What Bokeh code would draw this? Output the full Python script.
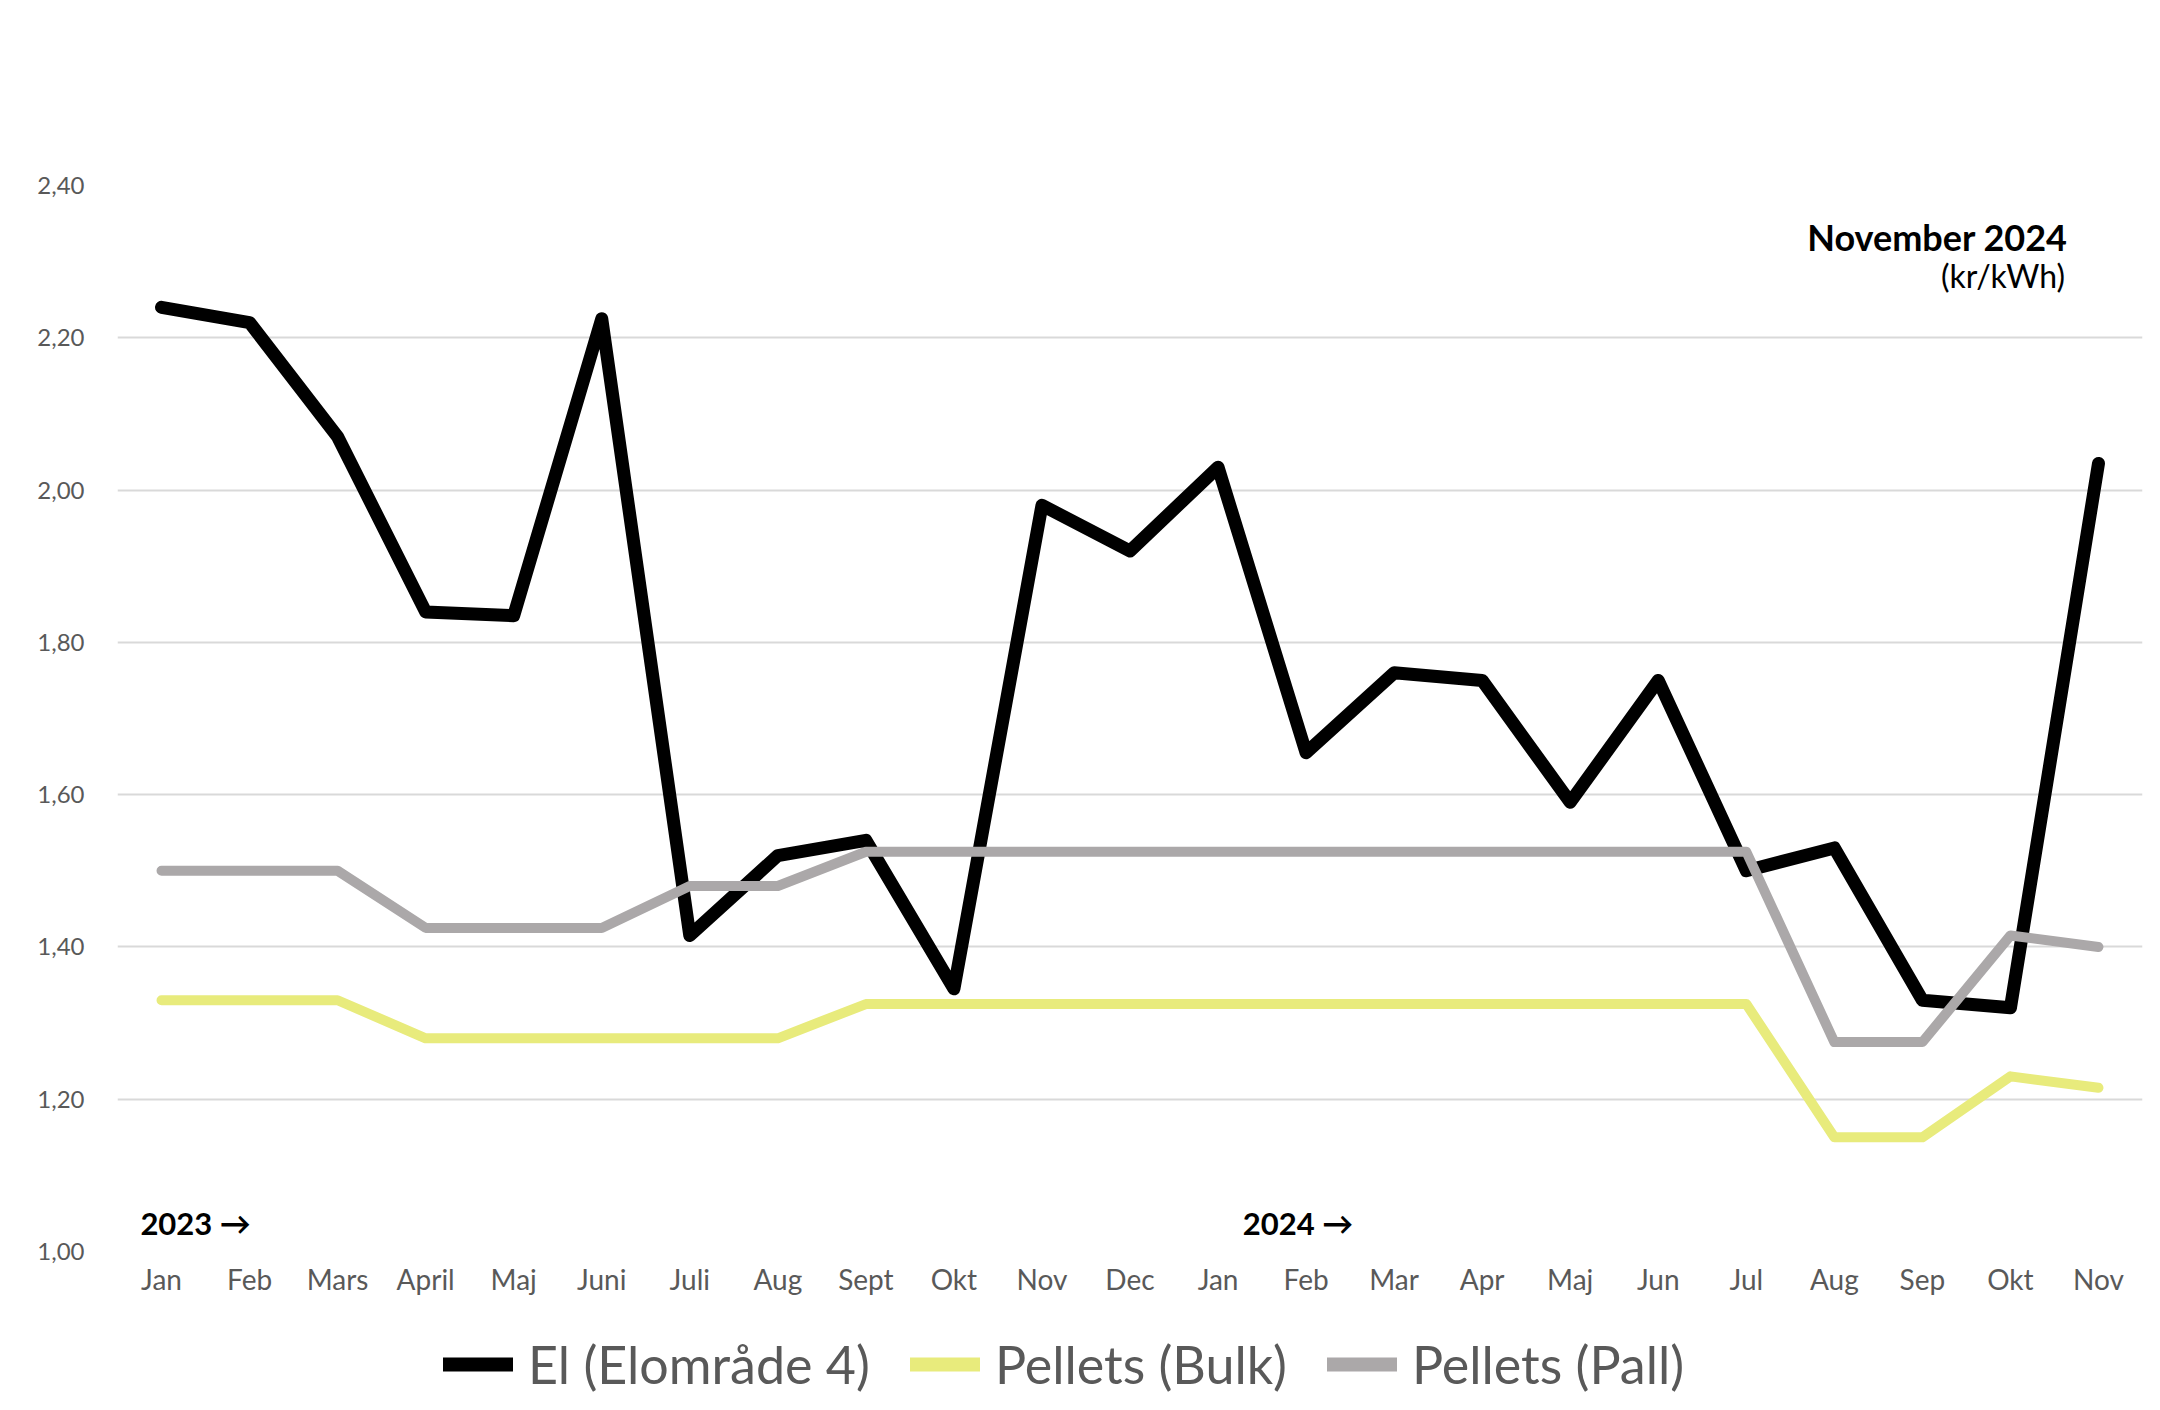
from bokeh.plotting import figure
from bokeh.layouts import column
from bokeh.models import (Range1d, FixedTicker, CustomJSTickFormatter, Legend,
                          LegendItem, Label)
from bokeh.embed import file_html
from bokeh.resources import INLINE

# ---- data ----
months = ["Jan", "Feb", "Mars", "April", "Maj", "Juni", "Juli", "Aug", "Sept",
          "Okt", "Nov", "Dec", "Jan", "Feb", "Mar", "Apr", "Maj", "Jun", "Jul",
          "Aug", "Sep", "Okt", "Nov"]
el = [2.24, 2.22, 2.07, 1.84, 1.835, 2.225, 1.415, 1.52, 1.54, 1.345, 1.98,
      1.92, 2.03, 1.655, 1.76, 1.75, 1.59, 1.75, 1.50, 1.53, 1.33, 1.32, 2.035]
bulk = [1.33, 1.33, 1.33, 1.28, 1.28, 1.28, 1.28, 1.28, 1.325, 1.325, 1.325,
        1.325, 1.325, 1.325, 1.325, 1.325, 1.325, 1.325, 1.325, 1.15, 1.15,
        1.23, 1.215]
pall = [1.50, 1.50, 1.50, 1.425, 1.425, 1.425, 1.48, 1.48, 1.525, 1.525, 1.525,
        1.525, 1.525, 1.525, 1.525, 1.525, 1.525, 1.525, 1.525, 1.275, 1.275,
        1.415, 1.40]
y_ticks = [1.0, 1.2, 1.4, 1.6, 1.8, 2.0, 2.2, 2.4]
series_names = ["El (Elområde 4)", "Pellets (Bulk)", "Pellets (Pall)"]
series_colors = ["#000000", "#e8eb7c", "#aba8a9"]
year_labels = ["2023 \u2192", "2024 \u2192"]
year_starts = [0, 12]

FONT = "Lato"
x = list(range(len(months)))
series = [el, bulk, pall]

p = figure(width=2152, height=1300, output_backend="svg", toolbar_location=None,
           x_range=Range1d(-0.5, len(months) - 0.5), y_range=Range1d(1.0, 2.4),
           min_border_left=117, min_border_right=10, min_border_top=185,
           min_border_bottom=49)
p.outline_line_color = None
p.background_fill_color = "white"
p.border_fill_color = "white"

# axes
p.xaxis.ticker = FixedTicker(ticks=x)
p.xaxis.major_label_overrides = {i: m for i, m in enumerate(months)}
p.xaxis.axis_line_color = None
p.xaxis.major_tick_line_color = None
p.xaxis.minor_tick_line_color = None
p.xaxis.major_label_standoff = 4
p.xaxis.major_label_text_font = FONT
p.xaxis.major_label_text_font_size = "28px"
p.xaxis.major_label_text_color = "#595959"

p.yaxis.ticker = FixedTicker(ticks=y_ticks)
p.yaxis.formatter = CustomJSTickFormatter(code="return tick.toFixed(2).replace('.', ',');")
p.yaxis.axis_line_color = None
p.yaxis.major_tick_line_color = None
p.yaxis.minor_tick_line_color = None
p.yaxis.major_label_standoff = 27
p.yaxis.major_label_text_font = FONT
p.yaxis.major_label_text_font_size = "24px"
p.yaxis.major_label_text_color = "#595959"

p.xgrid.grid_line_color = None
p.ygrid.ticker = FixedTicker(ticks=y_ticks)
p.ygrid.grid_line_color = "#d9d9d9"
p.ygrid.grid_line_width = 2

# lines
for vals, col, w in zip(series, series_colors, [13, 10, 10]):
    p.line(x, vals, line_color=col, line_width=w, line_cap="round",
           line_join="round")

# annotations
p.add_layout(Label(x=21.65, y=2.333, text="November 2024", text_align="right",
                   text_baseline="middle", text_font=FONT, text_font_style="bold",
                   text_font_size="36px", text_color="#000000"))
p.add_layout(Label(x=21.62, y=2.282, text="(kr/kWh)", text_align="right",
                   text_baseline="middle", text_font=FONT,
                   text_font_size="32px", text_color="#000000"))
for lab, xs, off in zip(year_labels, year_starts, [-0.24, 0.28]):
    p.add_layout(Label(x=xs + off, y=1.037, text=lab, text_align="left",
                       text_baseline="middle", text_font=FONT,
                       text_font_style="bold", text_font_size="31px",
                       text_color="#000000"))

# legend strip below the chart (series drawn out of view, used only for the key)
lg = figure(width=2152, height=102, output_backend="svg", toolbar_location=None,
            x_range=Range1d(0, 1), y_range=Range1d(0, 1),
            x_axis_location=None, y_axis_location=None,
            min_border_left=0, min_border_right=0, min_border_top=0,
            min_border_bottom=0)
lg.outline_line_color = None
lg.xgrid.grid_line_color = None
lg.ygrid.grid_line_color = None
lg_renderers = [lg.line(x, vals, line_color=c, line_width=14, line_cap="round")
                for vals, c in zip(series, series_colors)]
items = [LegendItem(label=n, renderers=[r]) for n, r in zip(series_names, lg_renderers)]
legend = Legend(items=items, orientation="horizontal", location=(326, 7),
                glyph_width=70, glyph_height=20, label_standoff=15, spacing=40,
                padding=0, margin=0, border_line_color=None,
                background_fill_alpha=0,
                label_text_font=FONT, label_text_font_size="52px",
                label_text_color="#595959")
lg.add_layout(legend, "center")

layout = column(p, lg, spacing=0)
open("out.html", "w").write(file_html(layout, INLINE))
